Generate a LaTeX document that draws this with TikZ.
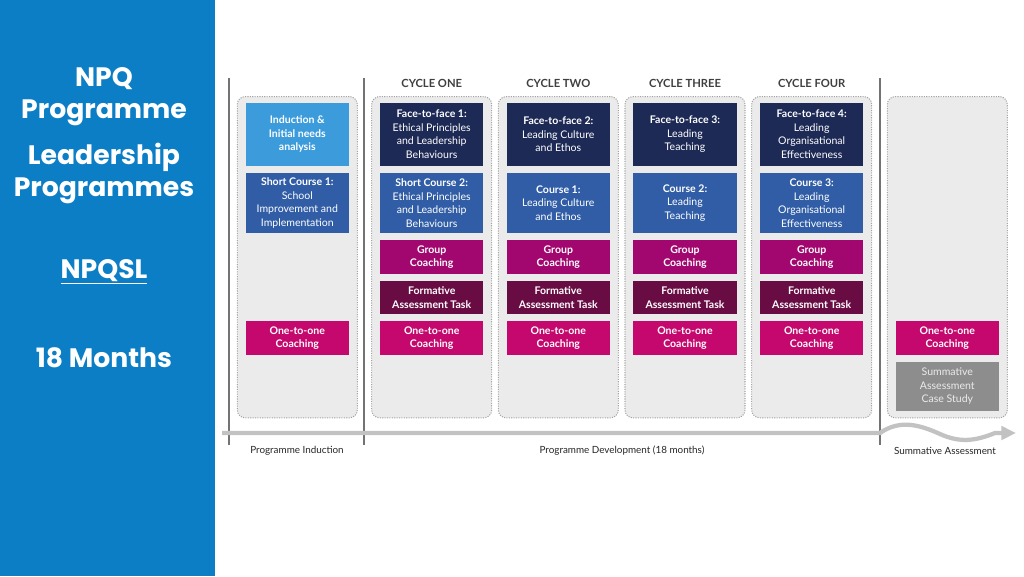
\documentclass[tikz,border=0pt]{standalone}
\usepackage{fontspec}
\setmainfont{Lato}
\newfontfamily\ttlfont{Poppins}
\usepackage{tikz}
\usetikzlibrary{arrows.meta}
\definecolor{npqblue}{HTML}{0B7EC6}
\definecolor{indblue}{HTML}{3B9BDB}
\definecolor{ffnavy}{HTML}{1E2A56}
\definecolor{crsblue}{HTML}{305DA5}
\definecolor{grpmag}{HTML}{A1076F}
\definecolor{fatmar}{HTML}{6A0C44}
\definecolor{onemag}{HTML}{C4086D}
\definecolor{sumgray}{HTML}{8D8D8D}
\definecolor{colfill}{HTML}{EBEBEB}
\definecolor{coldraw}{HTML}{A3A3A3}
\definecolor{hdrgray}{HTML}{3F3F3F}
\definecolor{tlgray}{HTML}{C2C2C2}

\begin{document}
\begin{tikzpicture}[
  x=0.75pt, y=-0.75pt,
  ttl/.style={text=white, align=center, font=\ttlfont\bfseries\fontsize{20}{24}\selectfont},
  col/.style={draw=coldraw, fill=colfill, densely dotted, line width=0.8pt,
              rounded corners=6pt, minimum width=90pt, minimum height=241pt},
  box/.style={minimum width=77.5pt, inner sep=1pt, align=center, text=white,
              font=\fontsize{7.9}{10.1}\selectfont},
  ind/.style={box, fill=indblue, minimum height=47.3pt, font=\fontsize{7.9}{10.1}\selectfont\bfseries},
  ff/.style={box, fill=ffnavy, minimum height=47.3pt},
  crs/.style={box, fill=crsblue, minimum height=45.5pt},
  grp/.style={box, fill=grpmag, minimum height=25.5pt, font=\fontsize{7.9}{10.1}\selectfont\bfseries},
  fat/.style={box, fill=fatmar, minimum height=25.2pt, font=\fontsize{7.9}{10.1}\selectfont\bfseries},
  one/.style={box, fill=onemag, minimum height=25.5pt, font=\fontsize{7.9}{10.1}\selectfont\bfseries},
  summ/.style={box, fill=sumgray, minimum height=37pt, text=white!92!black},
  cyc/.style={font=\fontsize{8.4}{10}\selectfont\bfseries, text=hdrgray},
  tl/.style={font=\fontsize{7.4}{9}\selectfont, text=black!85},
  sep/.style={draw=black!55, line width=0.8pt},
]
\useasboundingbox (0,0) rectangle (1024,576);

% ===== side panel =====
\fill[npqblue] (0,0) rectangle (215,576);
\node[ttl] (t1) at (104,97) {NPQ\\Programme};
\node[ttl] (t2) at (104,173) {Leadership\\Programmes};
\node[ttl] (t3) at (104,272) {\underline{NPQSL}};
\node[ttl] (t4) at (104,358) {18 Months};

% ===== separators =====
\draw[sep] (229,78) -- (229,445);
\draw[sep] (364,78) -- (364,445);
\draw[sep] (880,78) -- (880,445);

% ===== cycle headers =====
\node[cyc] (h1) at (431.7,83) {CYCLE ONE};
\node[cyc] (h2) at (558.3,83) {CYCLE TWO};
\node[cyc] (h3) at (685,83) {CYCLE THREE};
\node[cyc] (h4) at (811.7,83) {CYCLE FOUR};

% ===== column panels =====
\node[col] (c0) at (297.3,257.2) {};
\node[col] (c1) at (431.7,257.2) {};
\node[col] (c2) at (558.3,257.2) {};
\node[col] (c3) at (685,257.2) {};
\node[col] (c4) at (811.7,257.2) {};
\node[col] (c5) at (947.3,257.2) {};

% induction column
\node[ind] (ind) at (297.3,134.2) {Induction \&\\Initial needs\\analysis};
\node[crs] (sc1) at (297.3,203) {\textbf{Short Course 1:}\\School\\Improvement and\\Implementation};
\node[one] (o0) at (297.3,338) {One-to-one\\Coaching};

% cycle one
\node[ff] (ff1) at (431.7,134.2) {\textbf{Face-to-face 1:}\\Ethical Principles\\and Leadership\\Behaviours};
\node[crs] (sc2) at (431.7,203) {\textbf{Short Course 2:}\\Ethical Principles\\and Leadership\\Behaviours};
\node[grp] (g1) at (431.7,257) {Group\\Coaching};
\node[fat] (f1) at (431.7,297.5) {Formative\\Assessment Task};
\node[one] (o1) at (431.7,338) {One-to-one\\Coaching};

% cycle two
\node[ff] (ff2) at (558.3,134.2) {\textbf{Face-to-face 2:}\\Leading Culture\\and Ethos};
\node[crs] (cr1) at (558.3,203) {\textbf{Course 1:}\\Leading Culture\\and Ethos};
\node[grp] (g2) at (558.3,257) {Group\\Coaching};
\node[fat] (f2) at (558.3,297.5) {Formative\\Assessment Task};
\node[one] (o2) at (558.3,338) {One-to-one\\Coaching};

% cycle three
\node[ff] (ff3) at (685,134.2) {\textbf{Face-to-face 3:}\\Leading\\Teaching};
\node[crs] (cr2) at (685,203) {\textbf{Course 2:}\\Leading\\Teaching};
\node[grp] (g3) at (685,257) {Group\\Coaching};
\node[fat] (f3) at (685,297.5) {Formative\\Assessment Task};
\node[one] (o3) at (685,338) {One-to-one\\Coaching};

% cycle four
\node[ff] (ff4) at (811.7,134.2) {\textbf{Face-to-face 4:}\\Leading\\Organisational\\Effectiveness};
\node[crs] (cr3) at (811.7,203) {\textbf{Course 3:}\\Leading\\Organisational\\Effectiveness};
\node[grp] (g4) at (811.7,257) {Group\\Coaching};
\node[fat] (f4) at (811.7,297.5) {Formative\\Assessment Task};
\node[one] (o4) at (811.7,338) {One-to-one\\Coaching};

% summative column
\node[one] (o5) at (947.3,338) {One-to-one\\Coaching};
\node[summ] (sa) at (947.3,386.3) {Summative\\Assessment\\Case Study};

% ===== timeline =====
\coordinate (tl0) at (222,433);
\coordinate (tlw) at (880,433);
\coordinate (tlend) at (1016,433);
\draw[tlgray, line width=3.2pt, -{Triangle[length=11pt,width=10pt]}]
  (tl0) -- (tlw) .. controls (900,419) and (920,425) .. (940,434)
  .. controls (960,443) and (975,441) .. (995,433) -- (tlend);

\node[tl] (l1) at (297,451) {Programme Induction};
\node[tl] (l2) at (622,451) {Programme Development (18 months)};
\node[tl] (l3) at (945,451) {Summative Assessment};

\end{tikzpicture}
\end{document}
